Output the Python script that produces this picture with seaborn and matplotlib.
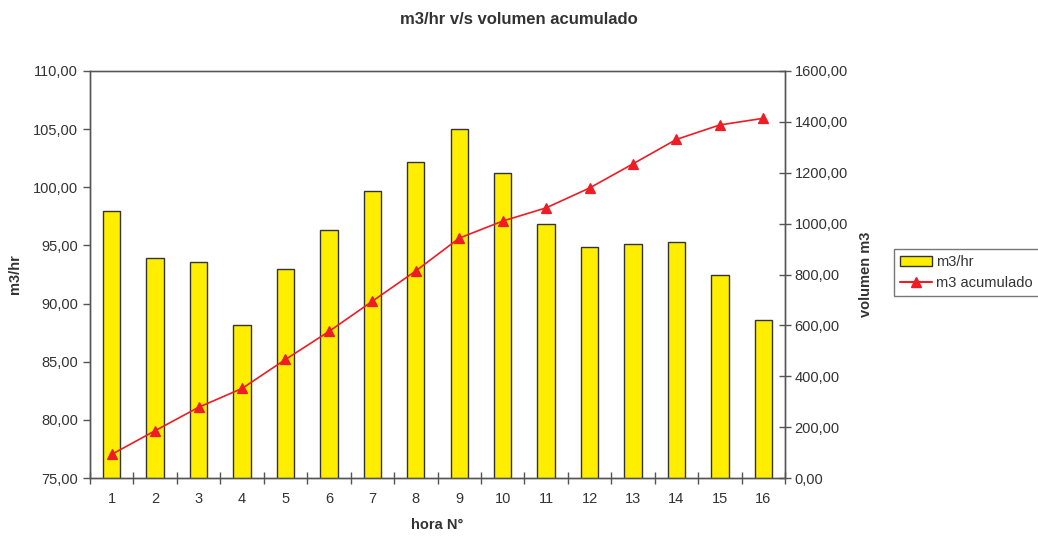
import numpy as np
import pandas as pd
import matplotlib
matplotlib.use("Agg")
import matplotlib.pyplot as plt
import seaborn as sns
from matplotlib.ticker import FuncFormatter, FixedLocator
from matplotlib.lines import Line2D
from matplotlib.patches import Patch

horas = [str(i) for i in range(1, 17)]
m3_hr = [98.0, 93.9, 93.6, 88.2, 93.0, 96.3, 99.7, 102.2, 105.0, 101.2,
         96.8, 94.9, 95.1, 95.3, 92.5, 88.6]
m3_acum = [93, 186, 278, 352, 466, 576, 695, 814, 943, 1010,
           1062, 1140, 1235, 1331, 1388, 1414]

sns.set_theme(style="white")
plt.rcParams['font.family'] = ['Liberation Sans', 'DejaVu Sans']
txt = "#333333"

df = pd.DataFrame({"hora": horas, "m3hr": m3_hr, "acum": m3_acum})

fig = plt.figure(figsize=(10.38, 5.36), dpi=100)
ax = fig.add_axes([90/1038, 1 - 478/536, 695/1038, 407/536])

sns.barplot(data=df, x="hora", y="m3hr", ax=ax, color="#FFEE00", width=0.4,
            edgecolor="#333333", linewidth=1.0, saturation=1)
ax.set_ylim(75, 110)
ax.set_xlim(-0.5, len(horas) - 0.5)

ax2 = ax.twinx()
sns.pointplot(data=df, x="hora", y="acum", ax=ax2, color="#EE1C25",
              markers="^", linestyles="-", linewidth=1.2, markersize=6.5)
ax2.set_ylim(0, 1600)
ax2.set_xlim(-0.5, len(horas) - 0.5)

fmt = FuncFormatter(lambda v, p: f"{v:.2f}".replace(".", ","))
ax.yaxis.set_major_formatter(fmt)
ax2.yaxis.set_major_formatter(fmt)
ax.set_yticks(np.arange(75, 111, 5))
ax2.set_yticks(np.arange(0, 1601, 200))

ax.set_xticks(range(len(horas)))
ax.set_xticklabels(horas)
ax.xaxis.set_minor_locator(FixedLocator(np.arange(-0.5, len(horas), 1.0)))
ax.tick_params(axis="x", which="major", length=0, pad=10, labelsize=10.5, labelcolor=txt)
ax.tick_params(axis="x", which="minor", direction="inout", length=8, width=1, color="#555555", bottom=True)
ax.tick_params(axis="y", direction="out", length=5, width=1, color="#555555", labelsize=10.5, labelcolor=txt, left=True)
ax2.tick_params(axis="y", direction="inout", length=8, width=1, color="#555555", labelsize=10.5, labelcolor=txt, right=True, pad=3)

for a in (ax, ax2):
    for s in a.spines.values():
        s.set_color("#555555")
        s.set_linewidth(1)
ax.spines["top"].set_color("#888888")

ax.set_xlabel("hora N°", fontsize=10.5, fontweight="bold", color=txt, labelpad=9)
ax.set_ylabel("m3/hr", fontsize=10.5, fontweight="bold", color=txt, labelpad=8)
ax2.set_ylabel("volumen m3", fontsize=10.5, fontweight="bold", color=txt, labelpad=8)

fig.suptitle("m3/hr v/s volumen acumulado", x=0.5, y=0.978, fontsize=12,
             fontweight="bold", color=txt)

handles = [Patch(facecolor="#FFEE00", edgecolor="#333333", label="m3/hr"),
           Line2D([0], [0], color="#EE1C25", marker="^", markersize=6.5, label="m3 acumulado")]
leg = fig.legend(handles=handles, loc="upper left", bbox_to_anchor=(894/1038, 1 - 249/536),
                 frameon=True, fancybox=False, edgecolor="#555555", fontsize=10.5,
                 handlelength=2.2, handletextpad=0.3, borderpad=0.4, labelspacing=0.5,
                 borderaxespad=0)
for t in leg.get_texts():
    t.set_color(txt)
leg.get_frame().set_linewidth(1)

fig.savefig("out.png", dpi=100)
